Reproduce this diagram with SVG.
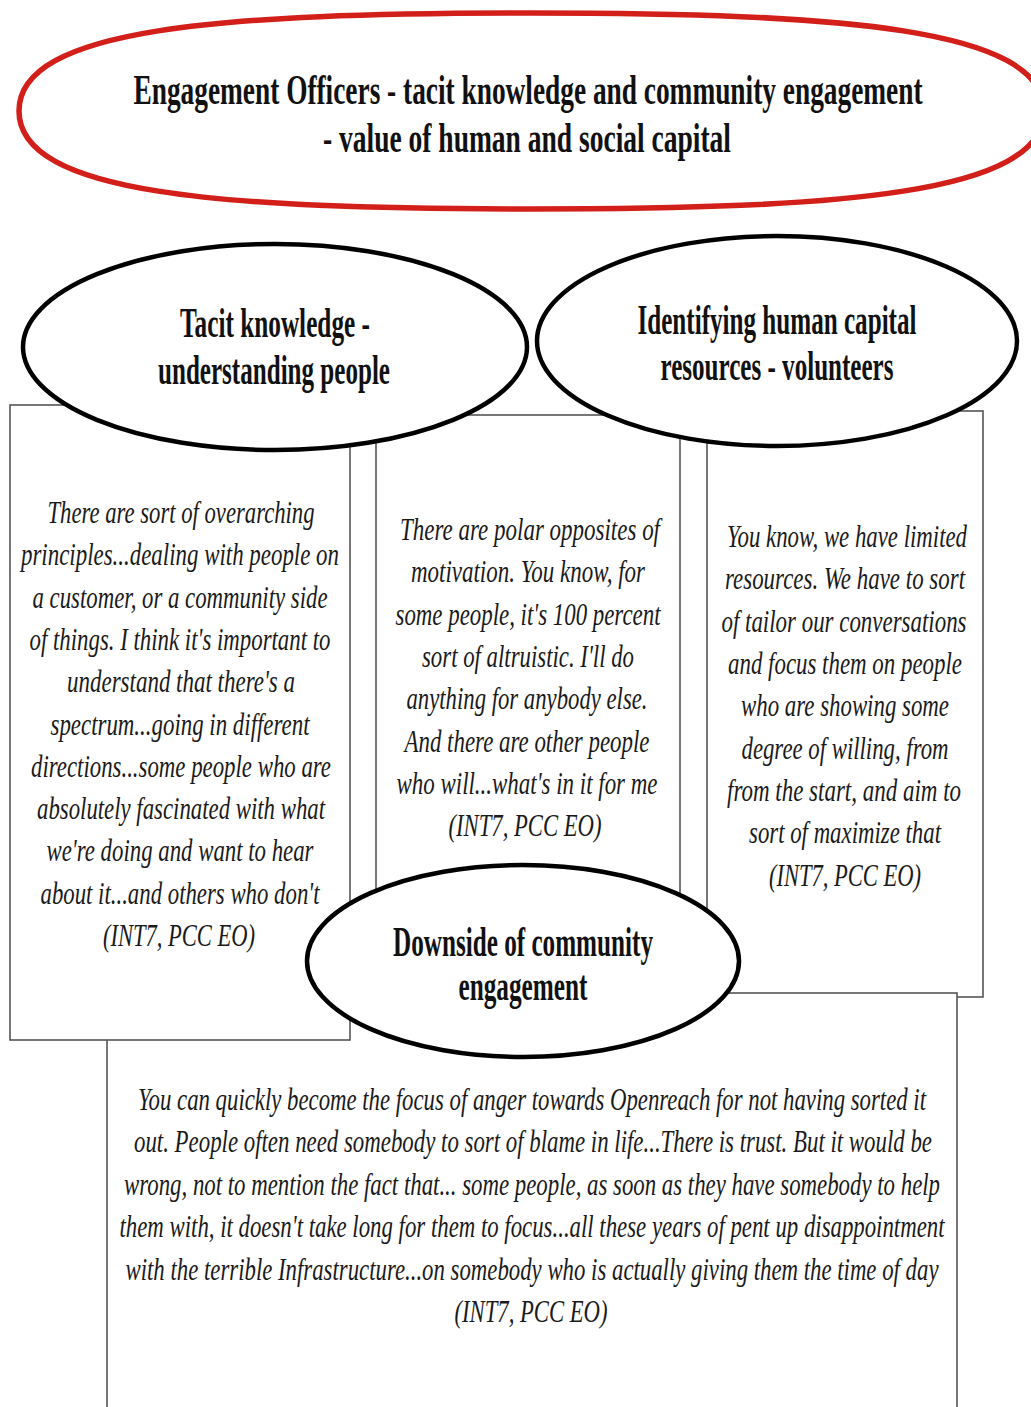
<svg xmlns="http://www.w3.org/2000/svg" width="1031" height="1407" viewBox="0 0 1031 1407">
  <style>
    .box { fill: #ffffff; stroke: #555555; stroke-width: 1.6; }
    .oval { fill: #ffffff; stroke: #000000; stroke-width: 4.5; }
    .head { font-family: "Liberation Serif", "Times New Roman", serif; font-weight: bold; font-size: 42px; fill: #111111; text-anchor: middle; }
    .quote { font-family: "Liberation Serif", "Times New Roman", serif; font-style: italic; font-size: 32px; fill: #1a1a1a; text-anchor: middle; }
  </style>

  <rect width="1031" height="1407" fill="#ffffff"/>

  <!-- Main theme banner: a flattened oval running off the right edge -->
  <g id="theme">
    <path d="M 19,111 C 19,28 220,13 530,13 C 840,13 1044,28 1044,111 C 1044,194 840,209 530,209 C 220,209 19,194 19,111 Z" fill="#ffffff" stroke="#d21f1a" stroke-width="5.5"/>
    <text class="head" x="528" y="104" textLength="789" lengthAdjust="spacingAndGlyphs">Engagement Officers - tacit knowledge and community engagement</text>
    <text class="head" x="527" y="152" textLength="408" lengthAdjust="spacingAndGlyphs">- value of human and social capital</text>
  </g>

  <!-- Quote boxes -->
  <g id="quote-motivation">
    <rect class="box" x="376" y="415" width="304" height="580"/>
    <text class="quote" x="530" y="540" textLength="260" lengthAdjust="spacingAndGlyphs">There are polar opposites of</text>
    <text class="quote" x="528" y="582" textLength="234" lengthAdjust="spacingAndGlyphs">motivation. You know, for</text>
    <text class="quote" x="528" y="625" textLength="265" lengthAdjust="spacingAndGlyphs">some people, it's 100 percent</text>
    <text class="quote" x="528" y="667" textLength="212" lengthAdjust="spacingAndGlyphs">sort of altruistic. I'll do</text>
    <text class="quote" x="527" y="709" textLength="241" lengthAdjust="spacingAndGlyphs">anything for anybody else.</text>
    <text class="quote" x="527" y="752" textLength="245" lengthAdjust="spacingAndGlyphs">And there are other people</text>
    <text class="quote" x="527" y="794" textLength="261" lengthAdjust="spacingAndGlyphs">who will...what's in it for me</text>
    <text class="quote" x="525" y="836" textLength="153" lengthAdjust="spacingAndGlyphs">(INT7, PCC EO)</text>
  </g>

  <g id="quote-resources">
    <rect class="box" x="707" y="411" width="276" height="586"/>
    <text class="quote" x="847" y="547" textLength="240" lengthAdjust="spacingAndGlyphs">You know, we have limited</text>
    <text class="quote" x="845" y="589" textLength="240" lengthAdjust="spacingAndGlyphs">resources. We have to sort</text>
    <text class="quote" x="844" y="632" textLength="245" lengthAdjust="spacingAndGlyphs">of tailor our conversations</text>
    <text class="quote" x="845" y="674" textLength="234" lengthAdjust="spacingAndGlyphs">and focus them on people</text>
    <text class="quote" x="845" y="716" textLength="208" lengthAdjust="spacingAndGlyphs">who are showing some</text>
    <text class="quote" x="845" y="759" textLength="207" lengthAdjust="spacingAndGlyphs">degree of willing, from</text>
    <text class="quote" x="844" y="801" textLength="234" lengthAdjust="spacingAndGlyphs">from the start, and aim to</text>
    <text class="quote" x="845" y="843" textLength="192" lengthAdjust="spacingAndGlyphs">sort of maximize that</text>
    <text class="quote" x="845" y="886" textLength="152" lengthAdjust="spacingAndGlyphs">(INT7, PCC EO)</text>
  </g>

  <g id="quote-downside">
    <rect class="box" x="107" y="993" width="850" height="430"/>
    <text class="quote" x="532" y="1110" textLength="788" lengthAdjust="spacingAndGlyphs">You can quickly become the focus of anger towards Openreach for not having sorted it</text>
    <text class="quote" x="533" y="1152" textLength="798" lengthAdjust="spacingAndGlyphs">out. People often need somebody to sort of blame in life...There is trust. But it would be</text>
    <text class="quote" x="532" y="1195" textLength="816" lengthAdjust="spacingAndGlyphs">wrong, not to mention the fact that... some people, as soon as they have somebody to help</text>
    <text class="quote" x="532" y="1237" textLength="825" lengthAdjust="spacingAndGlyphs">them with, it doesn't take long for them to focus...all these years of pent up disappointment</text>
    <text class="quote" x="532" y="1280" textLength="813" lengthAdjust="spacingAndGlyphs">with the terrible Infrastructure...on somebody who is actually giving them the time of day</text>
    <text class="quote" x="531" y="1322" textLength="153" lengthAdjust="spacingAndGlyphs">(INT7, PCC EO)</text>
  </g>

  <g id="quote-principles">
    <rect class="box" x="10" y="405" width="340" height="635"/>
    <text class="quote" x="181" y="523" textLength="267" lengthAdjust="spacingAndGlyphs">There are sort of overarching</text>
    <text class="quote" x="180" y="565" textLength="318" lengthAdjust="spacingAndGlyphs">principles...dealing with people on</text>
    <text class="quote" x="180" y="608" textLength="295" lengthAdjust="spacingAndGlyphs">a customer, or a community side</text>
    <text class="quote" x="180" y="650" textLength="301" lengthAdjust="spacingAndGlyphs">of things. I think it's important to</text>
    <text class="quote" x="181" y="692" textLength="228" lengthAdjust="spacingAndGlyphs">understand that there's a</text>
    <text class="quote" x="180" y="735" textLength="259" lengthAdjust="spacingAndGlyphs">spectrum...going in different</text>
    <text class="quote" x="181" y="777" textLength="300" lengthAdjust="spacingAndGlyphs">directions...some people who are</text>
    <text class="quote" x="181" y="819" textLength="288" lengthAdjust="spacingAndGlyphs">absolutely fascinated with what</text>
    <text class="quote" x="180" y="861" textLength="267" lengthAdjust="spacingAndGlyphs">we're doing and want to hear</text>
    <text class="quote" x="180" y="904" textLength="279" lengthAdjust="spacingAndGlyphs">about it...and others who don't</text>
    <text class="quote" x="179" y="946" textLength="152" lengthAdjust="spacingAndGlyphs">(INT7, PCC EO)</text>
  </g>

  <!-- Sub-theme ovals -->
  <g id="tacit-knowledge">
    <ellipse class="oval" cx="275" cy="347" rx="252" ry="103"/>
    <text class="head" x="275" y="337" textLength="190" lengthAdjust="spacingAndGlyphs">Tacit knowledge -</text>
    <text class="head" x="274" y="384" textLength="232" lengthAdjust="spacingAndGlyphs">understanding people</text>
  </g>

  <g id="human-capital">
    <ellipse class="oval" cx="777" cy="341" rx="240" ry="105"/>
    <text class="head" x="777" y="334" textLength="279" lengthAdjust="spacingAndGlyphs">Identifying human capital</text>
    <text class="head" x="777" y="380" textLength="233" lengthAdjust="spacingAndGlyphs">resources - volunteers</text>
  </g>

  <g id="downside">
    <ellipse class="oval" cx="523" cy="961" rx="216" ry="96"/>
    <text class="head" x="523" y="956" textLength="260" lengthAdjust="spacingAndGlyphs">Downside of community</text>
    <text class="head" x="523" y="1000" textLength="129" lengthAdjust="spacingAndGlyphs">engagement</text>
  </g>

  <!-- No connector lines: boxes and ovals are placed against each other -->
  <g id="connectors"/>
</svg>
